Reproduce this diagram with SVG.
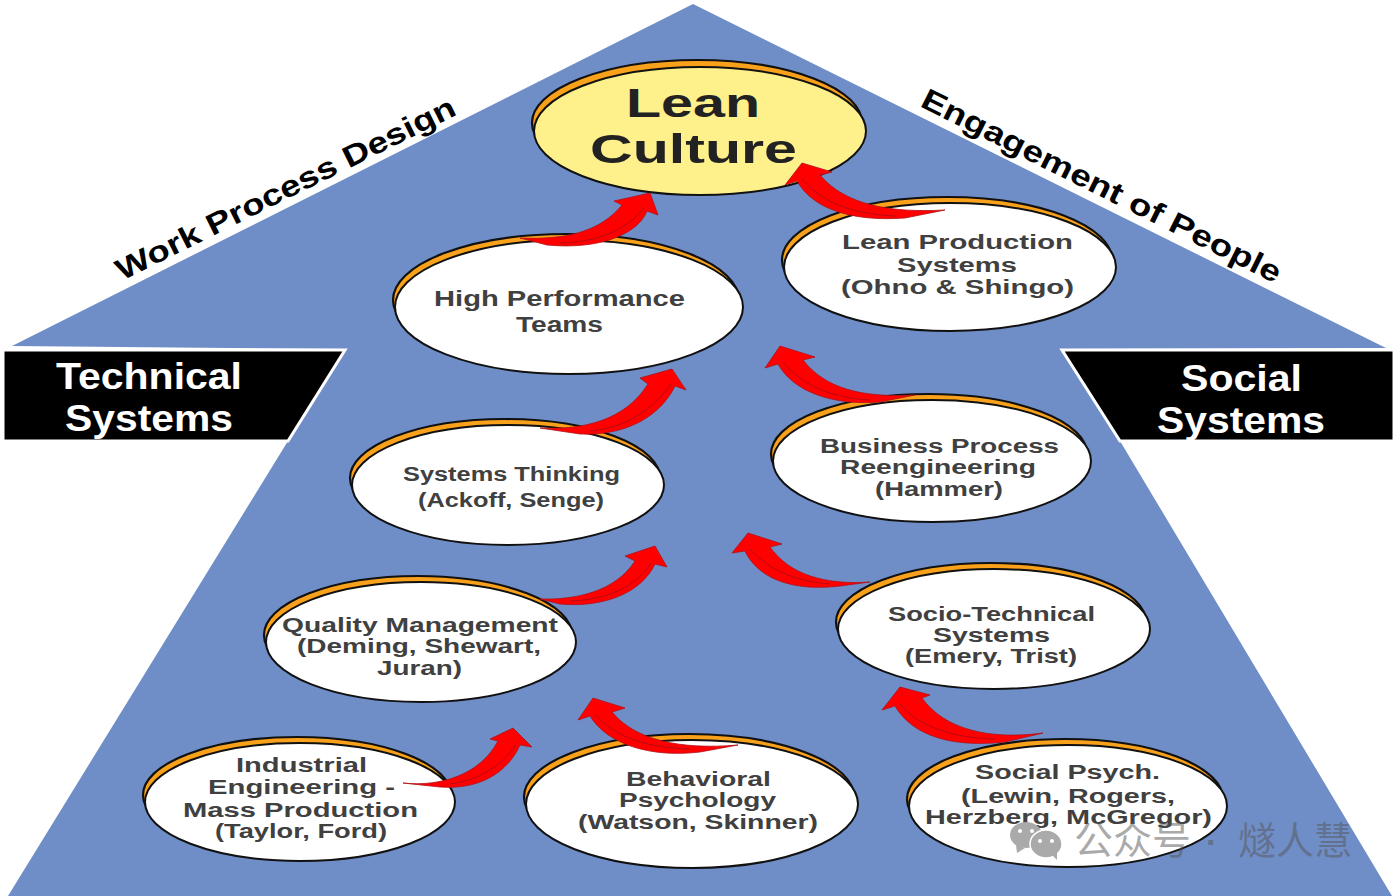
<svg xmlns="http://www.w3.org/2000/svg" width="1398" height="896" viewBox="0 0 1398 896">
<style>
text{font-family:"Liberation Sans",Arial,"Noto Sans CJK SC",sans-serif;font-weight:700}
.b{fill:#f9a11b;stroke:#111;stroke-width:2.2}
.f{fill:#fff;stroke:#111;stroke-width:2}
.t{fill:#404040;font-size:20px}
.w{fill:#fff;font-size:37px}
.h{fill:#000;font-size:30px}
.a{fill:#f00;stroke:#b01018;stroke-width:.8}
.l{fill:none;stroke:#a01018;stroke-width:.8}
.m{fill:#555;fill-opacity:.5}
.i{fill:#aaa}
</style>
<rect width="1398" height="896" fill="#fff"/>
<polygon id="house" points="693,4 1386,348 1062,349 1120,441 1392,896 8,896 288,441 345,349 12,346" fill="#6f8ec7"/>
<g id="banner-technical">
<polygon points="3,350 345,350 288,441 3,441" fill="#000" stroke="#fff" stroke-width="3"/>
<text class="w" x="56" y="389" textLength="186" lengthAdjust="spacingAndGlyphs">Technical</text>
<text class="w" x="65" y="431" textLength="168" lengthAdjust="spacingAndGlyphs">Systems</text>
</g>
<g id="banner-social">
<polygon points="1062,350 1394,350 1394,441 1120,441" fill="#000" stroke="#fff" stroke-width="3"/>
<text class="w" x="1181" y="391" textLength="121" lengthAdjust="spacingAndGlyphs">Social</text>
<text class="w" x="1157" y="433" textLength="168" lengthAdjust="spacingAndGlyphs">Systems</text>
</g>
<text id="label-left" class="h" transform="translate(122,281) rotate(-26.4)" textLength="375" lengthAdjust="spacingAndGlyphs">Work Process Design</text>
<text id="label-right" class="h" transform="translate(919,106) rotate(26.5)" textLength="398" lengthAdjust="spacingAndGlyphs">Engagement of People</text>
<g id="n-lean-culture">
<ellipse class="b" cx="697" cy="123" rx="165" ry="63"/>
<ellipse cx="700" cy="131" rx="166" ry="64" fill="#fef08a" stroke="#111" stroke-width="2"/>
<text x="626" y="117" font-size="40" fill="#222" textLength="134" lengthAdjust="spacingAndGlyphs">Lean</text>
<text x="590" y="163" font-size="40" fill="#222" textLength="207" lengthAdjust="spacingAndGlyphs">Culture</text>
</g>
<g id="n-high-performance">
<ellipse class="b" cx="566" cy="300" rx="173" ry="66"/>
<ellipse class="f" cx="569" cy="307" rx="174" ry="67"/>
<text x="434" y="306" font-size="22" fill="#404040" textLength="251" lengthAdjust="spacingAndGlyphs">High Performance</text>
<text x="516" y="332" font-size="22" fill="#404040" textLength="87" lengthAdjust="spacingAndGlyphs">Teams</text>
</g>
<g id="n-lean-production">
<ellipse class="b" cx="947" cy="260" rx="165" ry="63"/>
<ellipse class="f" cx="950" cy="267" rx="166" ry="64"/>
<text class="t" x="842" y="249" textLength="231" lengthAdjust="spacingAndGlyphs">Lean Production</text>
<text class="t" x="897" y="272" textLength="120" lengthAdjust="spacingAndGlyphs">Systems</text>
<text class="t" x="841" y="294" textLength="233" lengthAdjust="spacingAndGlyphs">(Ohno &amp; Shingo)</text>
</g>
<g id="n-systems-thinking">
<ellipse class="b" cx="505" cy="478" rx="155" ry="59"/>
<ellipse class="f" cx="508" cy="485" rx="156" ry="60"/>
<text class="t" x="403" y="481" textLength="217" lengthAdjust="spacingAndGlyphs">Systems Thinking</text>
<text class="t" x="418" y="507" textLength="186" lengthAdjust="spacingAndGlyphs">(Ackoff, Senge)</text>
</g>
<g id="n-bpr">
<ellipse class="b" cx="929" cy="454" rx="158" ry="60"/>
<ellipse class="f" cx="932" cy="461" rx="159" ry="61"/>
<text class="t" x="820" y="453" textLength="239" lengthAdjust="spacingAndGlyphs">Business Process</text>
<text class="t" x="840" y="474" textLength="196" lengthAdjust="spacingAndGlyphs">Reengineering</text>
<text class="t" x="875" y="496" textLength="128" lengthAdjust="spacingAndGlyphs">(Hammer)</text>
</g>
<g id="n-quality">
<ellipse class="b" cx="418" cy="635" rx="154" ry="59"/>
<ellipse class="f" cx="421" cy="642" rx="155" ry="60"/>
<text class="t" x="282" y="632" textLength="276" lengthAdjust="spacingAndGlyphs">Quality Management</text>
<text class="t" x="297" y="653" textLength="244" lengthAdjust="spacingAndGlyphs">(Deming, Shewart,</text>
<text class="t" x="377" y="675" textLength="85" lengthAdjust="spacingAndGlyphs">Juran)</text>
</g>
<g id="n-socio-technical">
<ellipse class="b" cx="991" cy="622" rx="155" ry="59"/>
<ellipse class="f" cx="994" cy="629" rx="156" ry="60"/>
<text class="t" x="888" y="621" textLength="207" lengthAdjust="spacingAndGlyphs">Socio-Technical</text>
<text class="t" x="933" y="642" textLength="117" lengthAdjust="spacingAndGlyphs">Systems</text>
<text class="t" x="905" y="663" textLength="172" lengthAdjust="spacingAndGlyphs">(Emery, Trist)</text>
</g>
<g id="n-industrial">
<ellipse class="b" cx="297" cy="795" rx="154" ry="58"/>
<ellipse class="f" cx="300" cy="802" rx="155" ry="59"/>
<text class="t" x="236" y="772" textLength="131" lengthAdjust="spacingAndGlyphs">Industrial</text>
<text class="t" x="208" y="794" textLength="187" lengthAdjust="spacingAndGlyphs">Engineering -</text>
<text class="t" x="183" y="817" textLength="235" lengthAdjust="spacingAndGlyphs">Mass Production</text>
<text class="t" x="215" y="838" textLength="172" lengthAdjust="spacingAndGlyphs">(Taylor, Ford)</text>
</g>
<g id="n-behavioral">
<ellipse class="b" cx="689" cy="797" rx="165" ry="63"/>
<ellipse class="f" cx="692" cy="804" rx="166" ry="64"/>
<text class="t" x="626" y="786" textLength="145" lengthAdjust="spacingAndGlyphs">Behavioral</text>
<text class="t" x="619" y="807" textLength="157" lengthAdjust="spacingAndGlyphs">Psychology</text>
<text class="t" x="578" y="829" textLength="240" lengthAdjust="spacingAndGlyphs">(Watson, Skinner)</text>
</g>
<g id="n-social-psych">
<ellipse class="b" cx="1065" cy="799" rx="158" ry="60"/>
<ellipse class="f" cx="1068" cy="806" rx="159" ry="61"/>
<text class="t" x="975" y="779" textLength="185" lengthAdjust="spacingAndGlyphs">Social Psych.</text>
<text class="t" x="961" y="803" textLength="214" lengthAdjust="spacingAndGlyphs">(Lewin, Rogers,</text>
<text class="t" x="925" y="824" textLength="287" lengthAdjust="spacingAndGlyphs">Herzberg, McGregor)</text>
</g>
<g id="connectors">
<path class="a" d="M520,238C565,240 600,232 622,205L614,201L650,193L658,215L647,211C638,234 600,250 547,245Z"/>
<path class="l" d="M560,243C595,242 625,232 644,208"/>
<path class="a" d="M945,210C890,213 845,205 820,175L832,172L802,163L785,185L797,181C812,208 850,222 905,218Z"/>
<path class="l" d="M895,216C855,214 825,205 802,179"/>
<path class="a" d="M540,428C585,430 625,420 648,384L640,378L672,369L686,390L675,386C660,417 625,436 580,434Z"/>
<path class="l" d="M590,431C625,428 652,410 671,384"/>
<path class="a" d="M915,395C860,398 825,388 803,360L815,357L780,346L765,368L778,364C792,390 830,406 880,402Z"/>
<path class="l" d="M870,400C835,398 805,388 783,362"/>
<path class="a" d="M540,599C575,600 615,592 635,561L625,556L655,546L667,567L655,564C642,592 605,608 560,604Z"/>
<path class="l" d="M570,601C605,600 635,588 651,563"/>
<path class="a" d="M870,582C825,585 790,575 770,547L782,544L748,533L732,553L745,551C757,577 790,592 840,586Z"/>
<path class="l" d="M830,584C800,582 770,572 750,549"/>
<path class="a" d="M403,783C440,787 480,775 498,741L490,739L513,728L532,747L520,745C508,772 480,790 440,787Z"/>
<path class="l" d="M450,784C480,780 503,765 516,744"/>
<path class="a" d="M738,745C680,750 635,740 612,712L625,708L593,698L578,720L590,716C607,744 650,758 700,752Z"/>
<path class="l" d="M690,749C650,748 615,738 595,714"/>
<path class="a" d="M1043,733C990,740 945,730 922,698L930,695L900,687L882,710L895,706C912,735 950,748 1005,742Z"/>
<path class="l" d="M995,739C955,738 920,728 900,704"/>
</g>
<g id="watermark">
<ellipse cx="1026" cy="835" rx="16" ry="13" class="i"/>
<path class="i" d="M1016,845l1,8l8,-5z"/>
<ellipse cx="1046" cy="844" rx="16" ry="14" class="i" stroke="#fff" stroke-width="1.5"/>
<path class="i" d="M1052,855l5,5l0,-8z"/>
<circle cx="1020" cy="831" r="2" fill="#fff"/><circle cx="1032" cy="831" r="2" fill="#fff"/>
<circle cx="1040" cy="841" r="2" fill="#fff"/><circle cx="1052" cy="841" r="2" fill="#fff"/>
<text class="m" x="1074" y="854" font-size="39" style="font-weight:400">公众号</text>
<text class="m" x="1206" y="854" font-size="34">·</text>
<text class="m" x="1238" y="854" font-size="38" style="font-weight:400">燧人慧</text>
</g>
</svg>
